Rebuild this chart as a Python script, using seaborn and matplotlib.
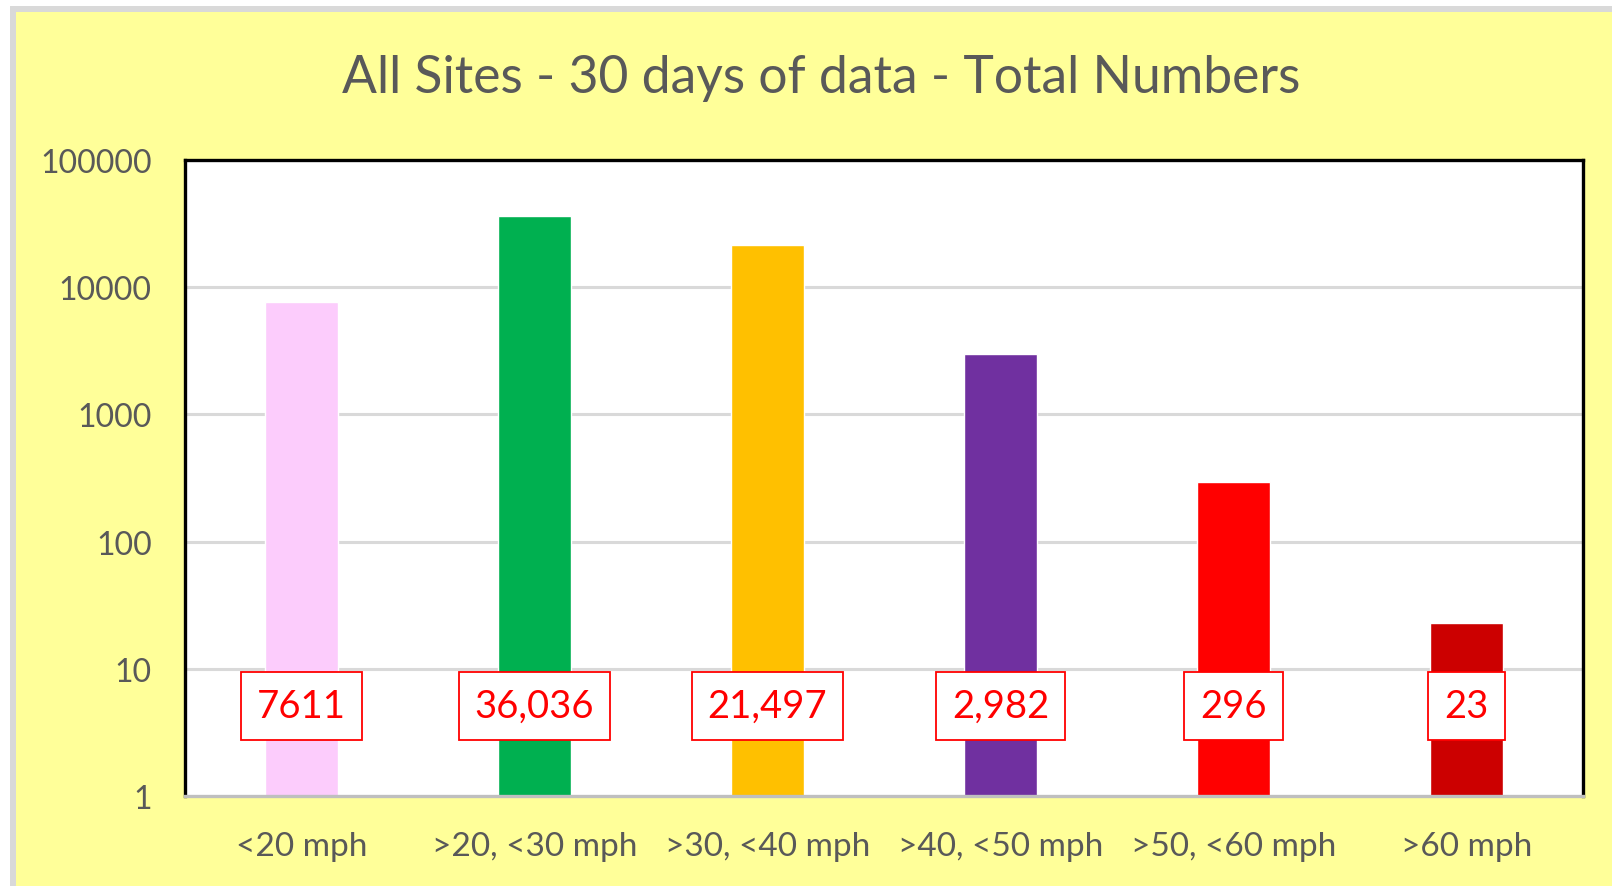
import matplotlib
matplotlib.use("Agg")
import matplotlib.pyplot as plt
import seaborn as sns
import pandas as pd
from matplotlib.patches import Rectangle

# -----------------------------------------------------
# Data
# -----------------------------------------------------

categories = ["<20 mph", ">20, <30 mph", ">30, <40 mph", ">40, <50 mph", ">50, <60 mph", ">60 mph"]
counts = [7611, 36036, 21497, 2982, 296, 23]
count_labels = ["7611", "36,036", "21,497", "2,982", "296", "23"]
bar_colors = ["#FCCCFC", "#00B050", "#FFC000", "#7030A0", "#FF0000", "#CC0000"]
y_ticks = [1, 10, 100, 1000, 10000, 100000]
y_tick_labels = ["1", "10", "100", "1000", "10000", "100000"]

title = "All Sites - 30 days of data - Total Numbers"

df = pd.DataFrame({"speed": categories, "count": counts})

# -----------------------------------------------------
# Style
# -----------------------------------------------------

sns.set_style("white")
plt.rcParams["font.family"] = ["Lato", "DejaVu Sans"]

W, H = 1612, 887
fig = plt.figure(figsize=(W / 100, H / 100), dpi=100, facecolor="white")

# yellow chart area with grey frame
fig.patches.append(Rectangle((12.5 / W, -0.1), 1.2, 1 - 9.5 / H + 0.1,
                             transform=fig.transFigure, facecolor="#FFFF99",
                             edgecolor="#D9D9D9", linewidth=4.3, zorder=-5))

ax = fig.add_axes([185 / W, (H - 797) / H, (1583 - 185) / W, (797 - 161) / H])
ax.set_facecolor("white")

sns.barplot(data=df, x="speed", y="count", hue="speed", palette=bar_colors,
            width=0.31, saturation=1, legend=False, ax=ax, zorder=2)

ax.set_yscale("log")
ax.set_ylim(1, 100000)
ax.set_xlim(-0.5, len(categories) - 0.5)

ax.set_yticks(y_ticks)
ax.set_yticklabels(y_tick_labels)
ax.yaxis.set_minor_locator(matplotlib.ticker.NullLocator())
ax.tick_params(axis="y", length=0, pad=24, labelsize=23, labelcolor="#595959")
ax.tick_params(axis="x", length=0, pad=25, labelsize=24, labelcolor="#595959")

for v in y_ticks[1:-1]:
    ax.axhline(v, color="#D9D9D9", linewidth=2.2, zorder=1)

ax.set_xlabel("")
ax.set_ylabel("")

for side in ["left", "top", "right"]:
    ax.spines[side].set_color("black")
    ax.spines[side].set_linewidth(2.4)
ax.spines["bottom"].set_color("#BFBFBF")
ax.spines["bottom"].set_linewidth(2.4)

# value labels in red boxes
for i, lab in enumerate(count_labels):
    ax.text(i, 5.1, lab, ha="center", va="center", fontsize=27.5, color="#FF0000",
            zorder=4,
            bbox=dict(boxstyle="square,pad=0.42", facecolor="white",
                      edgecolor="#FF0000", linewidth=1.3))

fig.text(821 / W, 1 - 79 / H, title, ha="center", va="center",
         fontsize=37.2, color="#595959")

fig.savefig("out.png", dpi=100, facecolor=fig.get_facecolor())
